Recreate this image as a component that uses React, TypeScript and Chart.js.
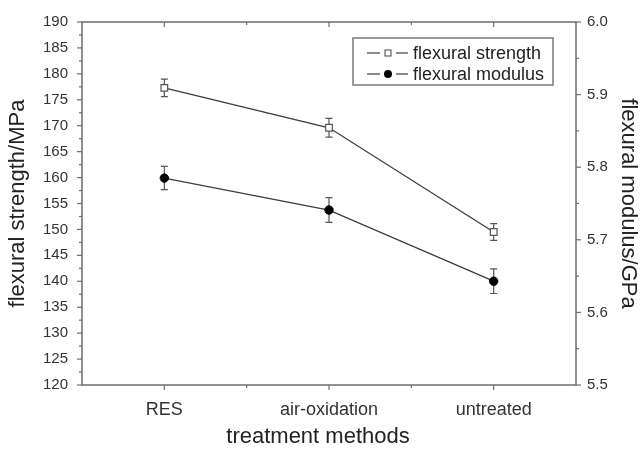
import React, { useEffect, useRef } from 'react';
import { Chart, registerables } from 'chart.js';

Chart.register(...registerables);

const categories = ['RES', 'air-oxidation', 'untreated'];
const strengthValues = [177.3, 169.6, 149.5];
const strengthErrors = [1.7, 1.8, 1.6];
const modulusValues = [5.785, 5.741, 5.643];
const modulusErrors = [0.016, 0.017, 0.017];
const strengthMin = 120;
const strengthMax = 190;
const strengthStep = 5;
const modulusMin = 5.5;
const modulusMax = 6.0;
const modulusStep = 0.1;
const legendLabels = ['flexural strength', 'flexural modulus'];
const xTitle = 'treatment methods';
const yTitle = 'flexural strength/MPa';
const y1Title = 'flexural modulus/GPa';

const FONT = "'Liberation Sans', Arial, Helvetica, sans-serif";
const AXIS = '#6e6e6e';
const TEXT = '#333333';

const errorBarPlugin = {
  id: 'errorBars',
  beforeDatasetsDraw(chart: any) {
    const { ctx } = chart;
    const errs = [strengthErrors, modulusErrors];
    ctx.save();
    ctx.strokeStyle = '#555';
    ctx.lineWidth = 1.2;
    chart.data.datasets.forEach((ds: any, di: number) => {
      const meta = chart.getDatasetMeta(di);
      const scale = chart.scales[ds.yAxisID];
      meta.data.forEach((pt: any, j: number) => {
        const v = ds.data[j];
        const e = errs[di][j];
        const yTop = scale.getPixelForValue(v + e);
        const yBot = scale.getPixelForValue(v - e);
        const x = pt.x;
        ctx.beginPath();
        ctx.moveTo(x, yTop);
        ctx.lineTo(x, yBot);
        ctx.moveTo(x - 3.5, yTop);
        ctx.lineTo(x + 3.5, yTop);
        ctx.moveTo(x - 3.5, yBot);
        ctx.lineTo(x + 3.5, yBot);
        ctx.stroke();
      });
    });
    ctx.restore();
  },
};

const framePlugin = {
  id: 'frame',
  afterDraw(chart: any) {
    const { ctx, chartArea, scales } = chart;
    const { left, right, top, bottom } = chartArea;
    ctx.save();
    ctx.strokeStyle = AXIS;
    ctx.lineWidth = 1.5;
    ctx.strokeRect(left, top, right - left, bottom - top);
    ctx.lineWidth = 1.2;
    const seg = (x1: number, y1: number, x2: number, y2: number) => {
      ctx.beginPath();
      ctx.moveTo(x1, y1);
      ctx.lineTo(x2, y2);
      ctx.stroke();
    };
    const nS = Math.round((strengthMax - strengthMin) / strengthStep) * 2;
    for (let i = 0; i <= nS; i++) {
      const v = strengthMin + (i * strengthStep) / 2;
      const py = scales.y.getPixelForValue(v);
      const len = i % 2 === 0 ? 5 : 3;
      seg(left - len, py, left, py);
    }
    const nM = Math.round((modulusMax - modulusMin) / modulusStep) * 2;
    for (let i = 0; i <= nM; i++) {
      const v = modulusMin + (i * modulusStep) / 2;
      const py = scales.y1.getPixelForValue(v);
      const len = i % 2 === 0 ? 5 : 3;
      seg(right, py, right + len, py);
    }
    for (let i = 0; i < categories.length; i++) {
      const px = scales.x.getPixelForValue(i);
      seg(px, bottom, px, bottom + 5);
      seg(px, top, px, top + 5);
      if (i < categories.length - 1) {
        const mx = scales.x.getPixelForValue(i + 0.5);
        seg(mx, bottom, mx, bottom + 3);
        seg(mx, top, mx, top + 3);
      }
    }
    // x-axis title
    ctx.fillStyle = '#222';
    ctx.font = `22px ${FONT}`;
    ctx.textAlign = 'center';
    ctx.textBaseline = 'middle';
    ctx.fillText(xTitle, (left + right) / 2 - 11, 437);
    ctx.restore();
  },
};

const legendPlugin = {
  id: 'customLegend',
  afterDraw(chart: any) {
    const { ctx } = chart;
    const bx = 353;
    const by = 38;
    const bw = 200;
    const bh = 47;
    ctx.save();
    ctx.fillStyle = '#fff';
    ctx.fillRect(bx, by, bw, bh);
    ctx.strokeStyle = '#7a7a7a';
    ctx.lineWidth = 1.5;
    ctx.strokeRect(bx, by, bw, bh);
    const rows = [53, 74];
    rows.forEach((ry, i) => {
      ctx.strokeStyle = '#666';
      ctx.lineWidth = 1.5;
      ctx.beginPath();
      ctx.moveTo(367, ry);
      ctx.lineTo(380, ry);
      ctx.moveTo(396, ry);
      ctx.lineTo(408, ry);
      ctx.stroke();
      if (i === 0) {
        ctx.fillStyle = '#fff';
        ctx.strokeStyle = '#555';
        ctx.lineWidth = 1.1;
        ctx.fillRect(385, ry - 3, 6, 6);
        ctx.strokeRect(385, ry - 3, 6, 6);
      } else {
        ctx.fillStyle = '#000';
        ctx.beginPath();
        ctx.arc(388, ry, 4, 0, Math.PI * 2);
        ctx.fill();
      }
      ctx.fillStyle = '#222';
      ctx.font = `18px ${FONT}`;
      ctx.textBaseline = 'middle';
      ctx.textAlign = 'left';
      ctx.fillText(legendLabels[i], 413, ry + 1);
    });
    ctx.restore();
  },
};

export default function App() {
  const ref = useRef<HTMLCanvasElement | null>(null);
  useEffect(() => {
    document.body.style.margin = '0';
    const canvas = ref.current;
    if (!canvas) return;
    Chart.defaults.font.family = FONT;
    const chart = new Chart(canvas, {
      type: 'line',
      data: {
        labels: categories,
        datasets: [
          {
            label: legendLabels[0],
            data: strengthValues,
            yAxisID: 'y',
            borderColor: '#3c3c3c',
            borderWidth: 1.3,
            pointStyle: 'rect',
            pointRadius: 4.7,
            pointBackgroundColor: '#fff',
            pointBorderColor: '#555',
            pointBorderWidth: 1.2,
            fill: false,
            tension: 0,
          },
          {
            label: legendLabels[1],
            data: modulusValues,
            yAxisID: 'y1',
            borderColor: '#3c3c3c',
            borderWidth: 1.3,
            pointStyle: 'circle',
            pointRadius: 4.2,
            pointBackgroundColor: '#000',
            pointBorderColor: '#000',
            pointBorderWidth: 1,
            fill: false,
            tension: 0,
          },
        ],
      },
      options: {
        responsive: false,
        animation: false,
        layout: { padding: { top: 22, left: 0, right: 0, bottom: 0 } },
        plugins: { legend: { display: false }, tooltip: { enabled: false } },
        scales: {
          x: {
            type: 'category',
            offset: true,
            grid: { display: false },
            border: { display: false },
            ticks: { color: TEXT, font: { size: 18 }, padding: 6, maxRotation: 0 },
            title: { display: false },
            afterFit: (s: any) => {
              s.height = 65;
            },
          },
          y: {
            position: 'left',
            min: strengthMin,
            max: strengthMax,
            grid: { display: false },
            border: { display: false },
            ticks: {
              stepSize: strengthStep,
              color: TEXT,
              font: { size: 15 },
              padding: 6,
              autoSkip: false,
            },
            title: {
              display: true,
              text: yTitle,
              color: '#222',
              font: { size: 22 },
              padding: { top: 5, bottom: 0 },
            },
            afterFit: (s: any) => {
              s.width = 82;
            },
          },
          y1: {
            position: 'right',
            min: modulusMin,
            max: modulusMax,
            grid: { display: false },
            border: { display: false },
            ticks: {
              stepSize: modulusStep,
              color: TEXT,
              font: { size: 15 },
              padding: 3,
              autoSkip: false,
              callback: (v: any) => Number(v).toFixed(1),
            },
            title: {
              display: true,
              text: y1Title,
              color: '#222',
              font: { size: 22 },
              padding: { top: 1, bottom: 0 },
            },
            afterFit: (s: any) => {
              s.width = 66;
            },
          },
        },
      },
      plugins: [errorBarPlugin, framePlugin, legendPlugin],
    } as any);
    return () => chart.destroy();
  }, []);
  return <canvas ref={ref} width={642} height={450} style={{ display: 'block' }} />;
}
